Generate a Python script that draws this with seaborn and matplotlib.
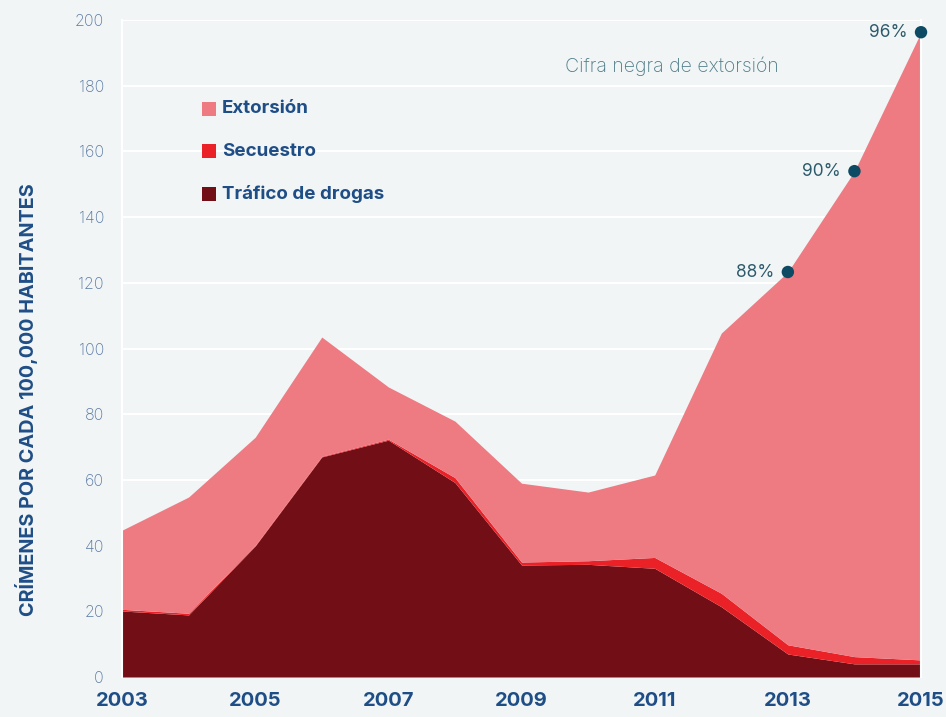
import numpy as np
import pandas as pd
import matplotlib
matplotlib.use("Agg")
import matplotlib.pyplot as plt
import seaborn as sns

# Datos (crímenes por cada 100,000 habitantes)
years = [2003, 2004, 2005, 2006, 2007, 2008, 2009, 2010, 2011, 2012, 2013, 2014, 2015]
trafico = [20.1, 18.9, 39.9, 67.0, 72.1, 59.2, 34.1, 34.3, 33.1, 21.4, 7.0, 4.0, 4.0]
secuestro = [0.5, 0.5, 0.2, 0.2, 0.3, 1.5, 0.9, 1.1, 3.3, 4.1, 2.8, 2.2, 1.2]
extorsion = [24.1, 35.4, 32.9, 36.3, 15.9, 17.2, 24.0, 20.9, 25.1, 79.2, 113.5, 147.8, 191.1]

# Cifra negra de extorsión
cifra_years = [2013, 2014, 2015]
cifra_labels = ["88%", "90%", "96%"]

tick_years = [2003, 2005, 2007, 2009, 2011, 2013, 2015]
y_ticks = [0, 20, 40, 60, 80, 100, 120, 140, 160, 180, 200]

col_trafico = "#720f16"
col_secuestro = "#ea2227"
col_extorsion = "#ee7a82"
bg = "#f1f5f6"
azul = "#1f4e86"
gris_azul = "#5a79a3"
punto = "#0d4a63"

sns.set_theme(style="white")
plt.rcParams["font.family"] = ["Inter", "DejaVu Sans"]

df = pd.DataFrame({"year": years, "trafico": trafico,
                   "secuestro": secuestro, "extorsion": extorsion})
df["total"] = df["trafico"] + df["secuestro"] + df["extorsion"]

fig = plt.figure(figsize=(9.46, 7.17), dpi=100, facecolor=bg)
ax = fig.add_axes([0.129, 0.0558, 0.8446, 0.9162])
ax.set_facecolor(bg)

ax.stackplot(df["year"], df["trafico"], df["secuestro"], df["extorsion"],
             colors=[col_trafico, col_secuestro, col_extorsion], zorder=2,
             linewidth=0)

# puntos de la cifra negra
pts = df[df["year"].isin(cifra_years)]
sns.scatterplot(x=pts["year"], y=pts["total"], ax=ax, color=punto, s=80,
                edgecolor="none", zorder=4, clip_on=False)
for yr, lab, tot in zip(pts["year"], cifra_labels, pts["total"]):
    ax.text(yr - 0.2, tot, lab, ha="right", va="center", fontsize=12.5,
            color="#2d5a6b", zorder=5)

ax.text(2009.66, 186, "Cifra negra de extorsión", fontsize=14, color="#4f7c88",
        ha="left", va="center", fontweight="light")

# leyenda manual
leg = [("Extorsión", col_extorsion, 173), ("Secuestro", col_secuestro, 160),
       ("Tráfico de drogas", col_trafico, 147)]
for txt, c, yy in leg:
    ax.scatter([2004.3], [yy], marker="s", s=110, color=c, zorder=5,
               linewidths=0)
    ax.text(2004.5, yy, txt, fontsize=13.5, fontweight="bold", color=azul,
            ha="left", va="center", zorder=5)

ax.set_xlim(2003, 2015)
ax.set_ylim(0, 200)
ax.set_yticks(y_ticks)
ax.set_xticks(tick_years)
ax.set_xticklabels([str(t) for t in tick_years], fontsize=14.5,
                   fontweight="bold", color=azul)
ax.set_yticklabels([str(t) for t in y_ticks], fontsize=11.5, color=gris_azul,
                   fontweight="light")
ax.tick_params(axis="x", length=0, pad=11)
ax.tick_params(axis="y", length=0, pad=13)
ax.grid(axis="y", color="white", linewidth=1.5, zorder=1)
ax.set_axisbelow(True)
for s in ["top", "bottom"]:
    ax.spines[s].set_visible(False)
for s in ["left", "right"]:
    ax.spines[s].set_color("white")
    ax.spines[s].set_linewidth(1.5)

ax.set_xlabel("")
ax.set_ylabel("CRÍMENES POR CADA 100,000 HABITANTES", fontsize=14.3,
              fontweight="bold", color=azul)
ax.yaxis.set_label_coords(-0.105, 0.422)

fig.savefig("out.png", dpi=100, facecolor=bg)
